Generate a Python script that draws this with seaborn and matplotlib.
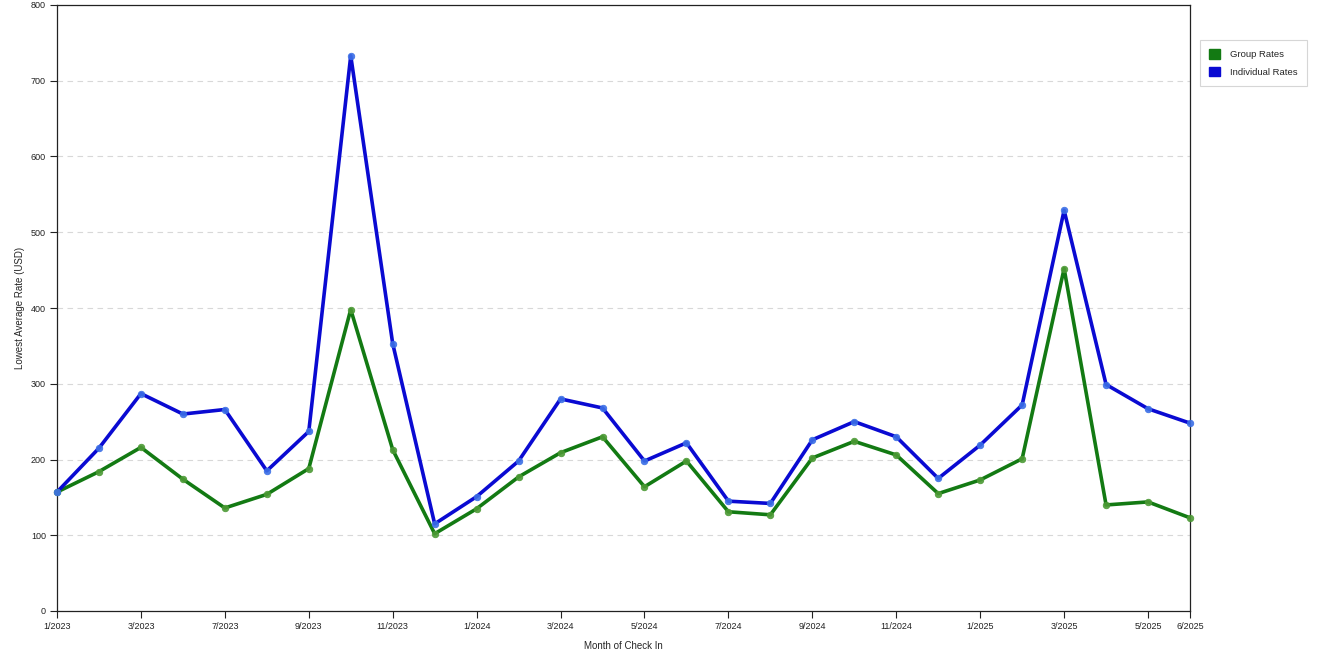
import pandas as pd
import matplotlib.pyplot as plt
import seaborn as sns
from matplotlib.patches import Patch

# Dados
months = ['1/2023', '2/2023', '3/2023', '5/2023', '7/2023', '8/2023', '9/2023',
          '10/2023', '11/2023', '12/2023', '1/2024', '2/2024', '3/2024', '4/2024',
          '5/2024', '6/2024', '7/2024', '8/2024', '9/2024', '10/2024', '11/2024',
          '12/2024', '1/2025', '2/2025', '3/2025', '4/2025', '5/2025', '6/2025']
group_rates = [157, 184, 216, 174, 136, 154, 188, 398, 213, 102, 135, 177, 209, 230,
               164, 198, 131, 127, 202, 224, 206, 155, 173, 201, 452, 140, 144, 123]
individual_rates = [157, 215, 287, 260, 266, 185, 237, 733, 353, 115, 151, 198, 280, 268,
                    198, 222, 145, 142, 226, 250, 230, 175, 219, 272, 529, 299, 267, 248]
shown_labels = ['1/2023', '3/2023', '7/2023', '9/2023', '11/2023', '1/2024', '3/2024',
                '5/2024', '7/2024', '9/2024', '11/2024', '1/2025', '3/2025', '5/2025', '6/2025']

series = ['Group Rates', 'Individual Rates']
colors = {'Group Rates': '#137a13', 'Individual Rates': '#0a0ad2'}
face = {'Group Rates': '#4c9a35', 'Individual Rates': '#3b6fe6'}

df = pd.DataFrame({
    'idx': list(range(len(months))) * 2,
    'month': months * 2,
    'rate': group_rates + individual_rates,
    'serie': [series[0]] * len(months) + [series[1]] * len(months),
})

sns.set_style('white')
plt.rcParams['font.family'] = ['Liberation Sans', 'DejaVu Sans']

fig = plt.figure(figsize=(13.2, 6.6), dpi=100)
ax = fig.add_axes([57 / 1320, 1 - 611 / 660, (1190 - 57) / 1320, 606 / 660])

sns.lineplot(data=df, x='idx', y='rate', hue='serie', palette=colors, ax=ax,
             linewidth=2.6, legend=False, zorder=3)

# marcadores com contorno mais claro
for s in series:
    sub = df[df['serie'] == s]
    ax.scatter(sub['idx'], sub['rate'], s=22, color=face[s], edgecolor=face[s],
               linewidth=0.6, alpha=0.9, zorder=4, clip_on=False)

ax.set_xlim(0, len(months) - 1)
ax.set_ylim(0, 800)
ax.set_yticks(range(0, 801, 100))
ax.set_xticks([months.index(m) for m in shown_labels])
ax.set_xticklabels(shown_labels)
ax.tick_params(axis='both', labelsize=6.5, length=5, width=0.8, direction='out',
               bottom=True, left=True, pad=3, colors='#222222')
ax.yaxis.grid(True, linestyle=(0, (5, 4)), color='#d8d8d8', linewidth=0.8)
ax.xaxis.grid(False)
for sp in ax.spines.values():
    sp.set_color('#222222')
    sp.set_linewidth(0.9)

ax.set_xlabel('Month of Check In', fontsize=7, labelpad=7)
ax.set_ylabel('Lowest Average Rate (USD)', fontsize=7, labelpad=4)

handles = [Patch(facecolor=colors[s], edgecolor=colors[s]) for s in series]
leg = fig.legend(handles, series, loc='upper left', bbox_to_anchor=(1200 / 1320, 1 - 40 / 660),
                 fontsize=6.8, frameon=True, fancybox=False, handlelength=1.1,
                 handleheight=1.1, borderpad=1.0, labelspacing=0.85, handletextpad=1.1,
                 borderaxespad=0)
leg.get_frame().set_edgecolor('#cccccc')
leg.get_frame().set_linewidth(0.8)

plt.savefig('out.png', dpi=100)
